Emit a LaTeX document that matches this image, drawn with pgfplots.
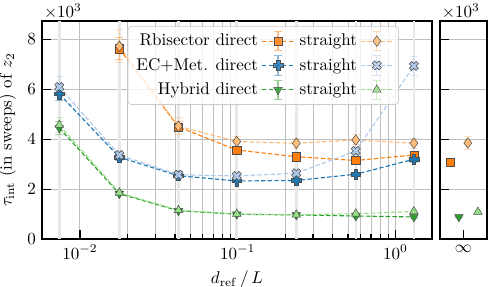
\documentclass[border=0pt]{standalone}
\usepackage{pgfplots}
\pgfplotsset{compat=1.18}
\definecolor{cO}{HTML}{FF7F0E}
\definecolor{cOl}{HTML}{FFBB78}
\definecolor{cB}{HTML}{1F77B4}
\definecolor{cBl}{HTML}{AEC7E8}
\definecolor{cG}{HTML}{2CA02C}
\definecolor{cGl}{HTML}{98DF8A}
\pgfdeclareplotmark{fplus}{%
  \pgfmathsetlengthmacro\armw{0.36*\pgfplotmarksize}%
  \pgfpathmoveto{\pgfpoint{-\armw}{\pgfplotmarksize}}%
  \pgfpathlineto{\pgfpoint{\armw}{\pgfplotmarksize}}%
  \pgfpathlineto{\pgfpoint{\armw}{\armw}}%
  \pgfpathlineto{\pgfpoint{\pgfplotmarksize}{\armw}}%
  \pgfpathlineto{\pgfpoint{\pgfplotmarksize}{-\armw}}%
  \pgfpathlineto{\pgfpoint{\armw}{-\armw}}%
  \pgfpathlineto{\pgfpoint{\armw}{-\pgfplotmarksize}}%
  \pgfpathlineto{\pgfpoint{-\armw}{-\pgfplotmarksize}}%
  \pgfpathlineto{\pgfpoint{-\armw}{-\armw}}%
  \pgfpathlineto{\pgfpoint{-\pgfplotmarksize}{-\armw}}%
  \pgfpathlineto{\pgfpoint{-\pgfplotmarksize}{\armw}}%
  \pgfpathlineto{\pgfpoint{-\armw}{\armw}}%
  \pgfpathclose
  \pgfusepathqfillstroke}
\pgfdeclareplotmark{fx}{\pgftransformrotate{45}\pgfuseplotmark{fplus}}
\pgfplotsset{
  ser/.style n args={4}{color=#1, line width=0.65pt, dash pattern=on 2.6pt off 1.3pt,
    mark=#2, mark size=#3, mark options={solid, fill=#1, draw=black!70, line width=0.3pt, #4},
    error bars/y dir=both, error bars/y explicit,
    error bars/error bar style={solid, line width=0.6pt, opacity=0.45},
    error bars/error mark options={solid, rotate=90, mark size=2.4pt, line width=0.6pt, opacity=0.45}},
  common/.style={scale only axis, height=128.4pt, ymin=0, ymax=8730,
    tick align=inside, xtick pos=bottom, ytick pos=left,
    major tick length=5.5pt, minor tick length=3pt,
    every tick/.style={black, line width=0.8pt},
    axis line style={line width=0.9pt},
    ymajorgrids, major grid style={line width=0.5pt, black!25},
    minor grid style={line width=0.5pt, black!25},
    ytick={0,2000,4000,6000,8000}},
}
\begin{document}
\begin{tikzpicture}
\useasboundingbox (0,0) rectangle (287.1pt,168.8pt);
\begin{axis}[common, name=main, at={(24.7pt,28.06pt)}, anchor=south west, width=229.4pt,
  xmode=log, xmin=0.00575, xmax=1.70, xtick={0.01,0.1,1},
  xmajorgrids, xminorgrids,
  extra x ticks={0.0074,0.01778,0.0421,0.0986,0.235,0.56,1.307},
  extra x tick labels={},
  extra x tick style={grid=major, major tick length=0pt, major grid style={line width=1.5pt, black!9}},
  yticklabels={0,2,4,6,8}, scaled y ticks=false,
  ylabel={$\tau_{\mathrm{int}}$ (in sweeps) of $z_2$},
  xlabel={$d_{\mathrm{ref}}\,/\,L$},
  legend columns=2, legend plot pos=right, legend cell align=right,
  legend style={at={(0.915,0.977)}, anchor=north east, draw=black!20, rounded corners=2pt,
    fill=white, fill opacity=0.8, text opacity=1, inner xsep=3pt, inner ysep=2.5pt,
    /tikz/every even column/.append style={column sep=1pt}, row sep=1.8pt},
  legend image code/.code={
    \draw[solid, opacity=0.5, line width=0.6pt] (0.33cm,-0.2cm) -- (0.33cm,0.2cm)
      (0.25cm,-0.2cm)--(0.41cm,-0.2cm) (0.25cm,0.2cm)--(0.41cm,0.2cm);
    \draw[mark repeat=2,mark phase=2] plot coordinates {(0cm,0cm) (0.33cm,0cm) (0.66cm,0cm)};
  },
]
% Rbisector direct
\addplot[ser={cO}{square*}{2.4pt}{}] table[x=x,y=y,y error=e] {
x y e
0.01778 7620 450
0.0421 4490 200
0.0986 3570 150
0.235 3300 150
0.56 3150 100
1.307 3370 150
};
\addlegendentry{Rbisector direct}
% Rbisector straight
\addplot[ser={cOl}{diamond*}{3.1pt}{}] table[x=x,y=y,y error=e] {
x y e
0.01778 7720 650
0.0421 4520 350
0.0986 3910 200
0.235 3840 200
0.56 3970 200
1.307 3840 200
};
\addlegendentry{straight}
% EC+Met direct
\addplot[ser={cB}{fplus}{2.9pt}{}] table[x=x,y=y,y error=e] {
x y e
0.0074 5810 280
0.01778 3280 120
0.0421 2540 80
0.0986 2330 80
0.235 2350 80
0.56 2600 80
1.307 3200 120
};
\addlegendentry{EC+Met. direct}
% EC+Met straight
\addplot[ser={cBl}{fx}{2.8pt}{}] table[x=x,y=y,y error=e] {
x y e
0.0074 6090 420
0.01778 3370 120
0.0421 2580 80
0.0986 2530 80
0.235 2640 100
0.56 3530 150
1.307 6930 380
};
\addlegendentry{straight}
% Hybrid direct
\addplot[ser={cG}{triangle*}{2.9pt}{rotate=180}] table[x=x,y=y,y error=e] {
x y e
0.0074 4450 250
0.01778 1820 80
0.0421 1140 60
0.0986 1000 50
0.235 970 50
0.56 930 50
1.307 890 60
};
\addlegendentry{Hybrid direct}
% Hybrid straight
\addplot[ser={cGl}{triangle*}{2.9pt}{}] table[x=x,y=y,y error=e] {
x y e
0.0074 4570 300
0.01778 1860 80
0.0421 1160 60
0.0986 1010 50
0.235 980 50
0.56 1020 60
1.307 1110 80
};
\addlegendentry{straight}
\end{axis}
\node[anchor=south west, inner sep=1pt] at (main.north west) {$\times10^{3}$};
\begin{axis}[common, name=inf, at={(258.8pt,28.06pt)}, anchor=south west, width=27.6pt,
  xmin=-1, xmax=1, xtick={0}, xticklabels={$\infty$}, yticklabels={}, clip=false]
\addplot[ser={cO}{square*}{2.4pt}{}, only marks] table[x=x,y=y,y error=e] {
x y e
-0.57 3090 60
};
\addplot[ser={cOl}{diamond*}{3.1pt}{}, only marks] table[x=x,y=y,y error=e] {
x y e
0.19 3850 250
};
\addplot[ser={cG}{triangle*}{2.9pt}{rotate=180}, only marks] table[x=x,y=y,y error=e] {
x y e
-0.19 890 40
};
\addplot[ser={cGl}{triangle*}{2.9pt}{}, only marks] table[x=x,y=y,y error=e] {
x y e
0.62 1090 40
};
\end{axis}
\node[anchor=south west, inner sep=1pt] at (inf.north west) {$\times10^{3}$};
\end{tikzpicture}
\end{document}
